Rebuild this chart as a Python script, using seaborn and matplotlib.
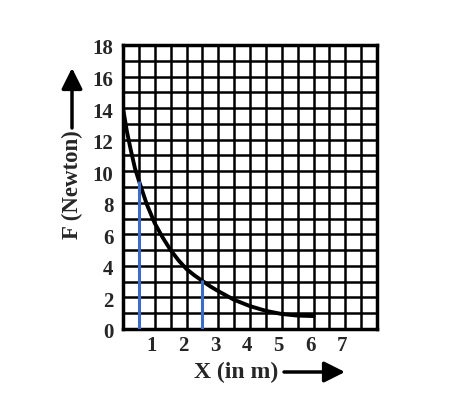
import matplotlib
matplotlib.use("Agg")
import matplotlib.pyplot as plt
import matplotlib.transforms as mtransforms
from matplotlib.ticker import MultipleLocator
import seaborn as sns
import pandas as pd

# ---- data ----
x_m = [0.0, 0.125, 0.25, 0.375, 0.5, 0.75, 1.0, 1.25, 1.5, 1.75, 2.0, 2.25, 2.5,
       2.75, 3.0, 3.5, 4.0, 4.5, 5.0, 5.5, 6.0]
force_n = [14.0, 12.5, 11.3, 10.2, 9.4, 7.9, 6.7, 5.8, 5.0, 4.35, 3.8, 3.4, 3.05,
           2.7, 2.4, 1.85, 1.45, 1.15, 0.95, 0.85, 0.82]
marker_x = [0.5, 2.5]
marker_top = [9.4, 3.1]
x_ticks = [1, 2, 3, 4, 5, 6, 7]
y_ticks = [0, 2, 4, 6, 8, 10, 12, 14, 16, 18]

df = pd.DataFrame({"x": x_m, "F": force_n})

sns.set_theme(style="white")
plt.rcParams["font.family"] = ["Liberation Serif", "DejaVu Serif"]
plt.rcParams["font.weight"] = "bold"

fig = plt.figure(figsize=(4.62, 3.99), dpi=100)
ax = fig.add_axes([123 / 462, 1 - 329 / 399, 254 / 462, 284 / 399])

ax.set_xlim(0, 8)
ax.set_ylim(0, 18)

# grid
ax.xaxis.set_minor_locator(MultipleLocator(0.5))
ax.yaxis.set_minor_locator(MultipleLocator(1))
ax.grid(which="both", color="black", linewidth=1.8)
ax.set_axisbelow(True)
for s in ax.spines.values():
    s.set_color("black")
    s.set_linewidth(2.5)

# curve and markers
sns.lineplot(data=df, x="x", y="F", ax=ax, color="black", linewidth=2.8, zorder=5)
ax.vlines(marker_x, [0, 0], marker_top, colors="#3a6cc8", linewidth=2.2, zorder=6)

ax.set_xticks(x_ticks)
ax.set_xticklabels([str(t) for t in x_ticks])
ax.set_yticks(y_ticks)
ax.set_yticklabels([str(t) for t in y_ticks])
ax.tick_params(axis="both", which="both", length=0, labelsize=15)
ax.tick_params(axis="x", pad=5)
ax.tick_params(axis="y", pad=7)
for lbl in ax.get_xticklabels() + ax.get_yticklabels():
    lbl.set_fontweight("bold")
off = mtransforms.ScaledTranslation(-3 / 100, 0, fig.dpi_scale_trans)
for lbl in ax.get_xticklabels():
    lbl.set_transform(lbl.get_transform() + off)
offy = mtransforms.ScaledTranslation(0, -2 / 100, fig.dpi_scale_trans)
for lbl in ax.get_yticklabels():
    lbl.set_transform(lbl.get_transform() + offy)

ax.set_xlabel("")
ax.set_ylabel("")

# axis labels with arrows
fig.text(236 / 462, 1 - 372 / 399, "X (in m)", ha="center", va="center",
         fontsize=17, fontweight="bold")
fig.text(72 / 462, 1 - 185 / 399, "F (Newton)", ha="center", va="center",
         rotation=90, fontsize=16.5, fontweight="bold")
fig.add_artist(matplotlib.patches.FancyArrowPatch(
    (284 / 462, 1 - 372 / 399), (345 / 462, 1 - 372 / 399),
    transform=fig.transFigure, arrowstyle="-|>,head_length=0.9,head_width=0.45",
    mutation_scale=14, color="black", linewidth=2.5, shrinkA=0, shrinkB=0))
fig.add_artist(matplotlib.patches.FancyArrowPatch(
    (72 / 462, 1 - 128 / 399), (72 / 462, 1 - 68 / 399),
    transform=fig.transFigure, arrowstyle="-|>,head_length=0.9,head_width=0.45",
    mutation_scale=14, color="black", linewidth=2.5, shrinkA=0, shrinkB=0))

fig.savefig("out.png", dpi=100, facecolor="white")
